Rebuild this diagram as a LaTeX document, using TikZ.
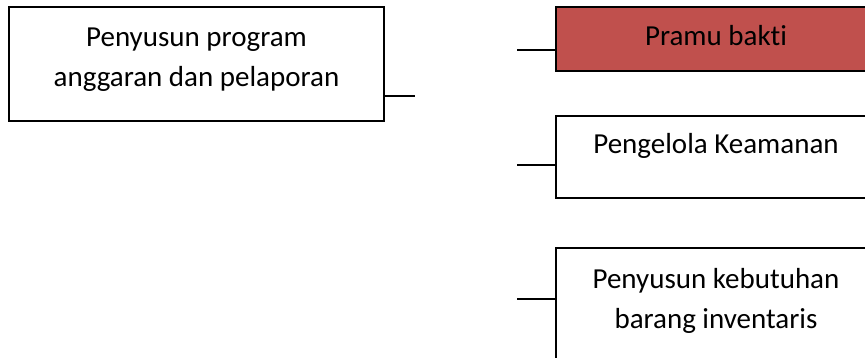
\documentclass[tikz,border=0pt]{standalone}
\usepackage{fontspec}
\setmainfont{Carlito}[Ligatures=NoCommon]
\definecolor{boxred}{HTML}{C0504D}
\begin{document}
\begin{tikzpicture}[x=1pt,y=-1pt,
  box/.style={draw=black,line width=1.4pt,fill=white},
  redbox/.style={box,fill=boxred},
  lbl/.style={font=\fontsize{29}{40}\selectfont,align=center,inner sep=0pt,anchor=base,text=black},
  conn/.style={draw=black,line width=1.4pt}]
\useasboundingbox (0,0) rectangle (865,358);
\clip (0,0) rectangle (865,358);
% left box
\path[box] (9,7) rectangle (384,121);
\coordinate (lbE) at (384,96);
\coordinate (lbEnd) at (415,96);
\node[lbl] (lbt) at (196.5,87) {Penyusun program\\anggaran dan pelaporan};
\draw[conn] (lbE) -- (lbEnd);
% Pramu bakti
\path[redbox] (556,7) rectangle (876,71);
\coordinate (pbW) at (556,50);
\coordinate (pbS) at (517,50);
\node[lbl] (pbt) at (716,46) {Pramu bakti};
\draw[conn] (pbS) -- (pbW);
% Pengelola
\path[box] (556,116) rectangle (876,198);
\coordinate (pkW) at (556,165);
\coordinate (pkS) at (517,165);
\node[lbl] (pkt) at (716,154) {Pengelola Keamanan};
\draw[conn] (pkS) -- (pkW);
% Penyusun kebutuhan
\path[box] (556,248) rectangle (876,372);
\coordinate (kbW) at (556,299);
\coordinate (kbS) at (517,299);
\node[lbl] (kbt) at (716,328) {Penyusun kebutuhan\\barang inventaris};
\draw[conn] (kbS) -- (kbW);
\end{tikzpicture}
\end{document}
